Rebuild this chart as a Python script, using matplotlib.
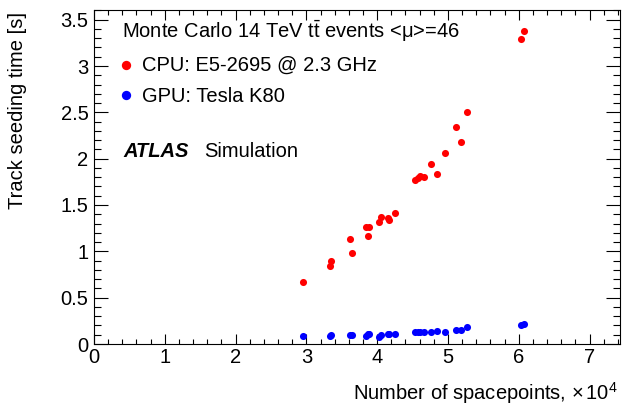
import matplotlib
matplotlib.use("Agg")
import matplotlib.pyplot as plt
from matplotlib.ticker import MultipleLocator

plt.rcParams['font.family'] = ['Liberation Sans', 'DejaVu Sans']
plt.rcParams['mathtext.fontset'] = 'custom'
plt.rcParams['mathtext.rm'] = 'Liberation Sans'
plt.rcParams['mathtext.it'] = 'Liberation Sans:italic'
plt.rcParams['mathtext.bf'] = 'Liberation Sans:bold'

# Data (x in units of 10^4 spacepoints, time in seconds)
spacepoints = [2.947, 3.328, 3.352, 3.620, 3.648, 3.841, 3.879, 3.870, 4.030, 4.053,
               4.147, 4.171, 4.246, 4.538, 4.571, 4.609, 4.665, 4.760, 4.845, 4.958,
               5.113, 5.188, 5.263, 6.035, 6.078]
cpu_time = [0.665, 0.845, 0.892, 1.133, 0.982, 1.263, 1.263, 1.161, 1.312, 1.366,
            1.360, 1.341, 1.414, 1.766, 1.790, 1.809, 1.798, 1.938, 1.830, 2.061,
            2.338, 2.183, 2.500, 3.295, 3.378]
gpu_time = [0.086, 0.086, 0.093, 0.093, 0.097, 0.090, 0.111, 0.105, 0.080, 0.100,
            0.104, 0.106, 0.108, 0.133, 0.129, 0.133, 0.133, 0.129, 0.143, 0.125,
            0.154, 0.147, 0.183, 0.200, 0.212]

W, H = 622, 405
fig = plt.figure(figsize=(W / 100, H / 100), dpi=100)
L, R, B, T = 94, 620, 344, 10.4
ax = fig.add_axes([L / W, (H - B) / H, (R - L) / W, (B - T) / H])

ax.scatter(spacepoints, cpu_time, s=26, color='#ff0000', linewidths=0, zorder=3)
ax.scatter(spacepoints, gpu_time, s=26, color='#0000ff', linewidths=0, zorder=3)

ax.set_xlim(0, 7.43)
ax.set_ylim(0, 3.6)
ax.xaxis.set_major_locator(MultipleLocator(1))
ax.xaxis.set_minor_locator(MultipleLocator(0.2))
ax.yaxis.set_major_locator(MultipleLocator(0.5))
ax.yaxis.set_minor_locator(MultipleLocator(0.1))
ax.set_xticks([0, 1, 2, 3, 4, 5, 6, 7])
ax.set_xticklabels(['0', '1', '2', '3', '4', '5', '6', '7'])
ax.set_yticks([0, 0.5, 1, 1.5, 2, 2.5, 3, 3.5])
ax.set_yticklabels(['0', '0.5', '1', '1.5', '2', '2.5', '3', '3.5'])

for s in ax.spines.values():
    s.set_linewidth(0.8)
ax.tick_params(axis='both', which='both', direction='in', top=True, right=True,
               width=0.8, labelsize=14.5, colors='black')
ax.tick_params(axis='x', which='major', length=7.2, pad=3)
ax.tick_params(axis='x', which='minor', length=3.6)
ax.tick_params(axis='y', which='major', length=10, pad=4)
ax.tick_params(axis='y', which='minor', length=5)

fs = 14.5
ax.text(0.053, 0.918, r'Monte Carlo 14 TeV t$\bar{\mathrm{t}}$ events <$\mathrm{\mu}$>=46',
        transform=ax.transAxes, fontsize=fs, va='baseline', ha='left')
ax.scatter([0.0608], [0.836], s=45, color='#ff0000', linewidths=0,
           transform=ax.transAxes, clip_on=False)
ax.text(0.0907, 0.818, 'CPU: E5-2695 @ 2.3 GHz', transform=ax.transAxes,
        fontsize=fs, va='baseline', ha='left')
ax.scatter([0.0608], [0.746], s=45, color='#0000ff', linewidths=0,
           transform=ax.transAxes, clip_on=False)
ax.text(0.0907, 0.726, 'GPU: Tesla K80', transform=ax.transAxes,
        fontsize=fs, va='baseline', ha='left')
ax.text(0.0557, 0.560, 'ATLAS', transform=ax.transAxes, fontsize=fs,
        fontweight='bold', fontstyle='italic', va='baseline', ha='left')
ax.text(0.209, 0.560, 'Simulation', transform=ax.transAxes, fontsize=fs,
        va='baseline', ha='left')

fig.text(18 / W, (H - 12) / H, 'Track seeding time [s]', rotation=90,
         fontsize=fs, ha='center', va='top')
fig.text(618 / W, (H - 400) / H, r'Number of spacepoints, $\times\,10^{4}$',
         fontsize=fs, ha='right', va='baseline')

fig.savefig('out.png', dpi=100)
